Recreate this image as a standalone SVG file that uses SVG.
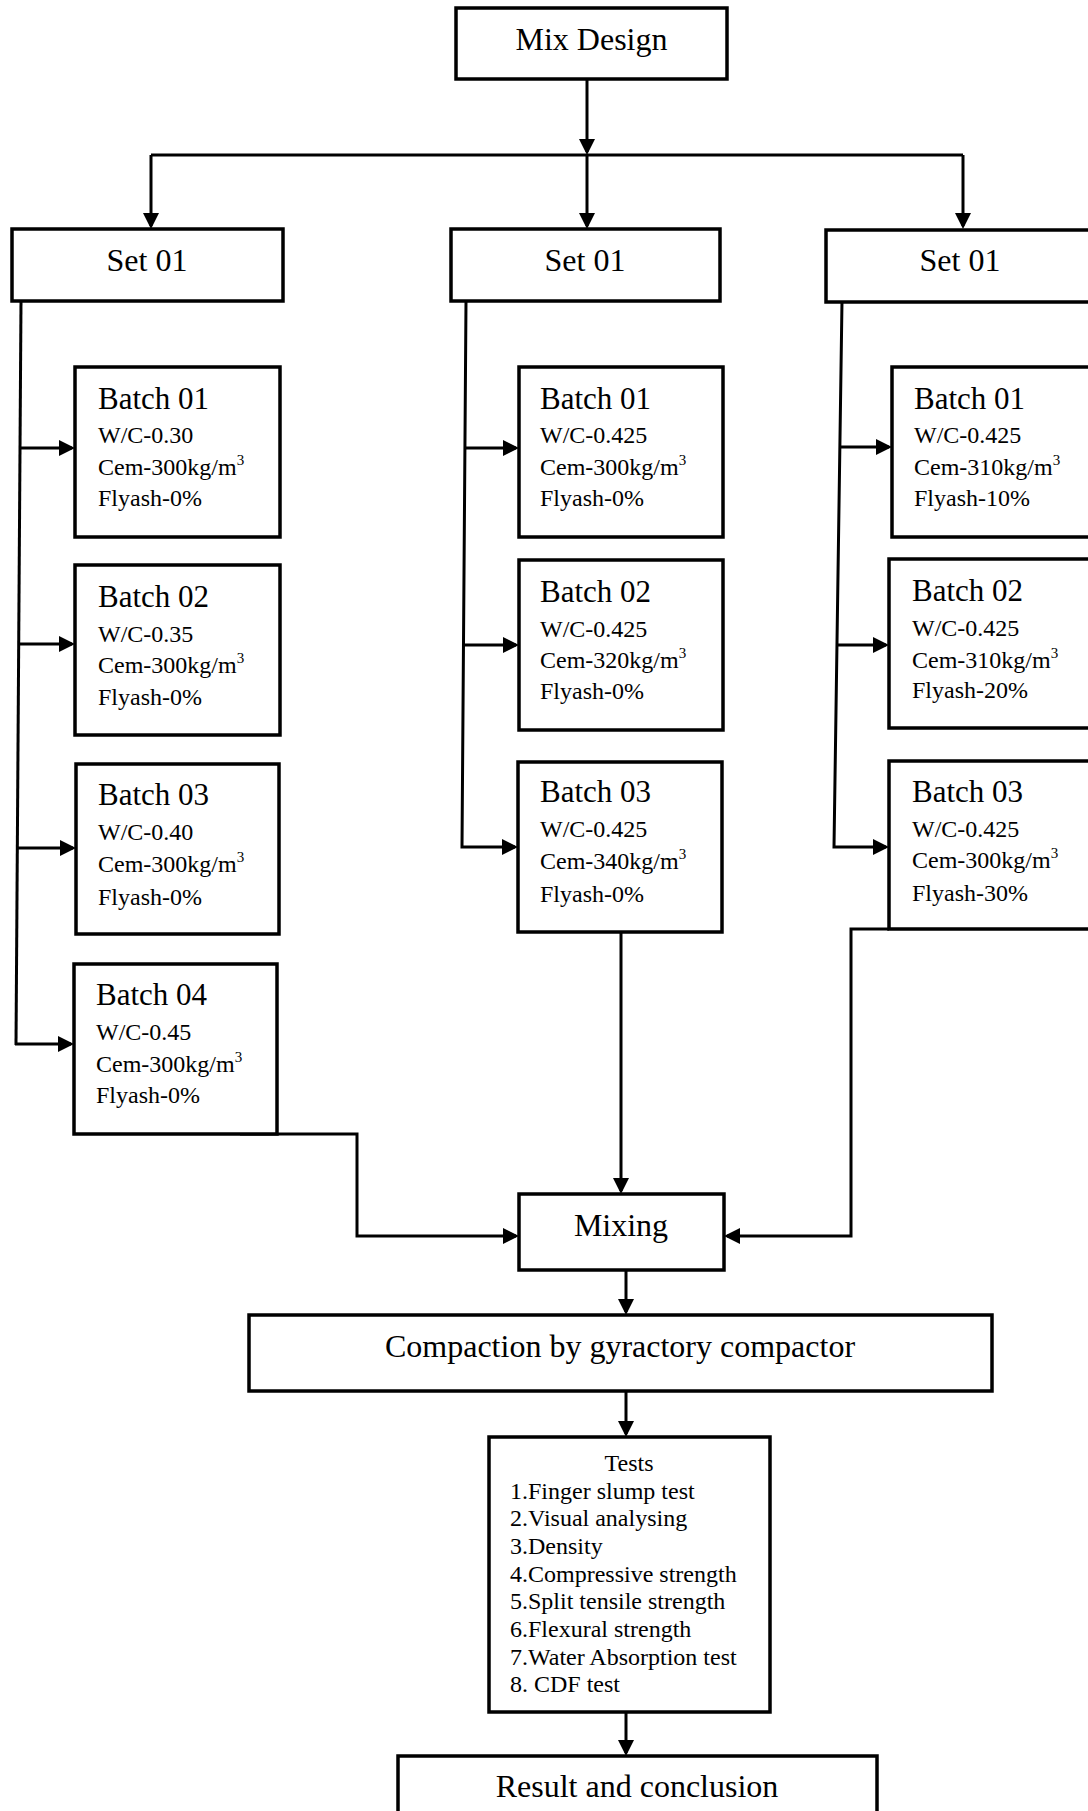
<svg xmlns="http://www.w3.org/2000/svg" width="1088" height="1811" viewBox="0 0 1088 1811">
<style>
.box{fill:#fff;stroke:#000;stroke-width:3.5}
.c{fill:none;stroke:#000;stroke-width:3}
text{font-family:"Liberation Serif","Times New Roman",serif;fill:#000}
.big{font-size:32px;text-anchor:middle}
.bt{font-size:31px}
.d{font-size:24px}
.sup{font-size:15px}
.t{font-size:24px}
</style>
<defs>
<marker id="ah" markerUnits="userSpaceOnUse" markerWidth="16" markerHeight="16" refX="13" refY="8" orient="auto">
<path d="M0,0 L16,8 L0,16 z" fill="#000"/>
</marker>
</defs>
<rect width="1088" height="1811" fill="#fff"/>
<g id="connectors">
<path class="c" d="M587,79 V152" marker-end="url(#ah)"/>
<path class="c" d="M151,155 H963"/>
<path class="c" d="M151,155 V226" marker-end="url(#ah)"/>
<path class="c" d="M587,155 V226" marker-end="url(#ah)"/>
<path class="c" d="M963,155 V226" marker-end="url(#ah)"/>
<path class="c" d="M21,301 L16,1045"/>
<path class="c" d="M20,448 H72" marker-end="url(#ah)"/>
<path class="c" d="M19,644 H72" marker-end="url(#ah)"/>
<path class="c" d="M17,848 H73" marker-end="url(#ah)"/>
<path class="c" d="M15,1044 H71" marker-end="url(#ah)"/>
<path class="c" d="M466,301 L462,847 H515" marker-end="url(#ah)"/>
<path class="c" d="M465,448 H516" marker-end="url(#ah)"/>
<path class="c" d="M464,645 H516" marker-end="url(#ah)"/>
<path class="c" d="M842,301 L834,847 H886" marker-end="url(#ah)"/>
<path class="c" d="M839,447 H889" marker-end="url(#ah)"/>
<path class="c" d="M837,645 H886" marker-end="url(#ah)"/>
<path class="c" d="M240,1134 H357 V1236 H516" marker-end="url(#ah)"/>
<path class="c" d="M621,932 V1191" marker-end="url(#ah)"/>
<path class="c" d="M889,929 H851 V1236 H727" marker-end="url(#ah)"/>
<path class="c" d="M626,1270 V1312" marker-end="url(#ah)"/>
<path class="c" d="M626,1391 V1434" marker-end="url(#ah)"/>
<path class="c" d="M626,1712 V1753" marker-end="url(#ah)"/>
</g>
<g id="mix-design"><rect class="box" x="456" y="8" width="271" height="71"/><text class="big" x="591.5" y="50">Mix Design</text></g>
<g id="set-left"><rect class="box" x="12" y="229" width="271" height="72"/><text class="big" x="147" y="271">Set 01</text></g>
<g id="set-middle"><rect class="box" x="451" y="229" width="269" height="72"/><text class="big" x="585" y="271">Set 01</text></g>
<g id="set-right"><rect class="box" x="826" y="230" width="272" height="72"/><text class="big" x="960" y="271">Set 01</text></g>

<g id="l-batch01"><rect class="box" x="75" y="367" width="205" height="170"/>
<text class="bt" x="98" y="409">Batch 01</text>
<text class="d" x="98" y="443">W/C-0.30</text>
<text class="d" x="98" y="475">Cem-300kg/m<tspan class="sup" dy="-10">3</tspan></text>
<text class="d" x="98" y="506">Flyash-0%</text></g>
<g id="l-batch02"><rect class="box" x="75" y="565" width="205" height="170"/>
<text class="bt" x="98" y="607">Batch 02</text>
<text class="d" x="98" y="642">W/C-0.35</text>
<text class="d" x="98" y="673">Cem-300kg/m<tspan class="sup" dy="-10">3</tspan></text>
<text class="d" x="98" y="705">Flyash-0%</text></g>
<g id="l-batch03"><rect class="box" x="76" y="764" width="203" height="170"/>
<text class="bt" x="98" y="805">Batch 03</text>
<text class="d" x="98" y="840">W/C-0.40</text>
<text class="d" x="98" y="872">Cem-300kg/m<tspan class="sup" dy="-10">3</tspan></text>
<text class="d" x="98" y="905">Flyash-0%</text></g>
<g id="l-batch04"><rect class="box" x="74" y="964" width="203" height="170"/>
<text class="bt" x="96" y="1005">Batch 04</text>
<text class="d" x="96" y="1040">W/C-0.45</text>
<text class="d" x="96" y="1072">Cem-300kg/m<tspan class="sup" dy="-10">3</tspan></text>
<text class="d" x="96" y="1103">Flyash-0%</text></g>

<g id="m-batch01"><rect class="box" x="519" y="367" width="204" height="170"/>
<text class="bt" x="540" y="409">Batch 01</text>
<text class="d" x="540" y="443">W/C-0.425</text>
<text class="d" x="540" y="475">Cem-300kg/m<tspan class="sup" dy="-10">3</tspan></text>
<text class="d" x="540" y="506">Flyash-0%</text></g>
<g id="m-batch02"><rect class="box" x="519" y="560" width="204" height="170"/>
<text class="bt" x="540" y="602">Batch 02</text>
<text class="d" x="540" y="637">W/C-0.425</text>
<text class="d" x="540" y="668">Cem-320kg/m<tspan class="sup" dy="-10">3</tspan></text>
<text class="d" x="540" y="699">Flyash-0%</text></g>
<g id="m-batch03"><rect class="box" x="518" y="762" width="204" height="170"/>
<text class="bt" x="540" y="802">Batch 03</text>
<text class="d" x="540" y="837">W/C-0.425</text>
<text class="d" x="540" y="869">Cem-340kg/m<tspan class="sup" dy="-10">3</tspan></text>
<text class="d" x="540" y="902">Flyash-0%</text></g>

<g id="r-batch01"><rect class="box" x="892" y="367" width="205" height="170"/>
<text class="bt" x="914" y="409">Batch 01</text>
<text class="d" x="914" y="443">W/C-0.425</text>
<text class="d" x="914" y="475">Cem-310kg/m<tspan class="sup" dy="-10">3</tspan></text>
<text class="d" x="914" y="506">Flyash-10%</text></g>
<g id="r-batch02"><rect class="box" x="889" y="559" width="208" height="169"/>
<text class="bt" x="912" y="601">Batch 02</text>
<text class="d" x="912" y="636">W/C-0.425</text>
<text class="d" x="912" y="668">Cem-310kg/m<tspan class="sup" dy="-10">3</tspan></text>
<text class="d" x="912" y="698">Flyash-20%</text></g>
<g id="r-batch03"><rect class="box" x="889" y="761" width="208" height="168"/>
<text class="bt" x="912" y="802">Batch 03</text>
<text class="d" x="912" y="837">W/C-0.425</text>
<text class="d" x="912" y="868">Cem-300kg/m<tspan class="sup" dy="-10">3</tspan></text>
<text class="d" x="912" y="901">Flyash-30%</text></g>

<g id="mixing"><rect class="box" x="519" y="1194" width="205" height="76"/><text class="big" x="621" y="1236">Mixing</text></g>
<g id="compaction"><rect class="box" x="249" y="1315" width="743" height="76"/><text class="big" x="620" y="1357">Compaction by gyractory compactor</text></g>
<g id="tests"><rect class="box" x="489" y="1437" width="281" height="275"/>
<text class="t" x="629" y="1471" text-anchor="middle">Tests</text>
<text class="t" x="510" y="1499">1.Finger slump test</text>
<text class="t" x="510" y="1526">2.Visual analysing</text>
<text class="t" x="510" y="1554">3.Density</text>
<text class="t" x="510" y="1582">4.Compressive strength</text>
<text class="t" x="510" y="1609">5.Split tensile strength</text>
<text class="t" x="510" y="1637">6.Flexural strength</text>
<text class="t" x="510" y="1665">7.Water Absorption test</text>
<text class="t" x="510" y="1692">8. CDF test</text></g>
<g id="result"><rect class="box" x="398" y="1756" width="479" height="70"/><text class="big" x="637" y="1797">Result and conclusion</text></g>
</svg>
